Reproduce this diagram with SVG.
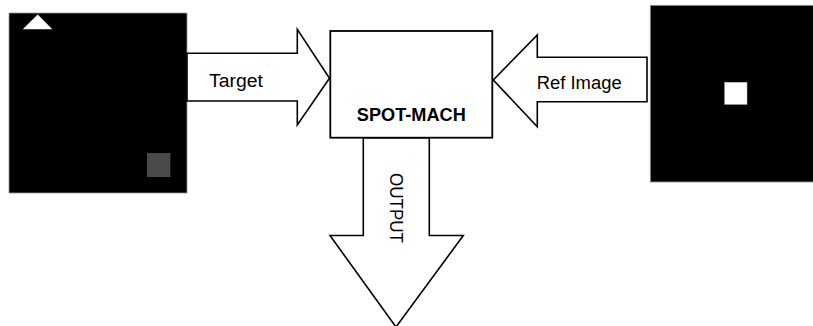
<svg xmlns="http://www.w3.org/2000/svg" width="813" height="326" viewBox="0 0 813 326">
<style>
.arrow{fill:#fff;stroke:#000;stroke-width:1.6;stroke-linejoin:miter}
.lbl{font-family:"Liberation Sans",Arial,sans-serif;font-size:18px;fill:#000}
.img{fill:#000;stroke:#9a9a9a;stroke-width:0.8}
</style>
<rect width="813" height="326" fill="#fff"/>
<g id="target-image">
<rect class="img" x="9" y="13" width="178" height="180"/>
<polygon points="37.7,14.5 52.3,29.3 22.7,29.3" fill="#fff"/>
<rect x="147.3" y="153.3" width="22.7" height="23.4" fill="#4a4a4a" stroke="#5a5a5a" stroke-width="0.6"/>
</g>
<g id="ref-image">
<rect class="img" x="650.3" y="5.3" width="164" height="176.7"/>
<rect x="724.7" y="82.3" width="22.3" height="22" fill="#fff" stroke="#bbb" stroke-width="0.6"/>
</g>
<g id="connectors">
<g id="target-arrow">
<polygon class="arrow" points="187,53.3 297.3,53.3 297.3,29.3 329.5,78.3 297.3,125 297.3,101 187,101"/>
<text class="lbl" x="209" y="87" textLength="54" lengthAdjust="spacingAndGlyphs">Target</text>
</g>
<g id="ref-arrow">
<polygon class="arrow" points="647,57.3 537.3,57.3 537.3,35 493.3,80 537.3,126.7 537.3,101.7 647,101.7"/>
<text class="lbl" x="536.7" y="88.5" textLength="85" lengthAdjust="spacingAndGlyphs">Ref Image</text>
</g>
<g id="output-arrow">
<polygon class="arrow" points="363.3,137.7 429.3,137.7 429.3,235.5 463.3,235.5 396,327 330,235.5 363.3,235.5"/>
<text class="lbl" transform="translate(390,173) rotate(90)" x="0" y="0" font-size="17" textLength="70" lengthAdjust="spacingAndGlyphs">OUTPUT</text>
</g>
</g>
<g id="spot-mach">
<rect x="330.3" y="31" width="162" height="106.7" fill="#fff" stroke="#000" stroke-width="1.8"/>
<text x="411.3" y="121" text-anchor="middle" font-family="Liberation Sans,Arial,sans-serif" font-size="18" font-weight="bold" textLength="109" lengthAdjust="spacingAndGlyphs">SPOT-MACH</text>
</g>
</svg>
